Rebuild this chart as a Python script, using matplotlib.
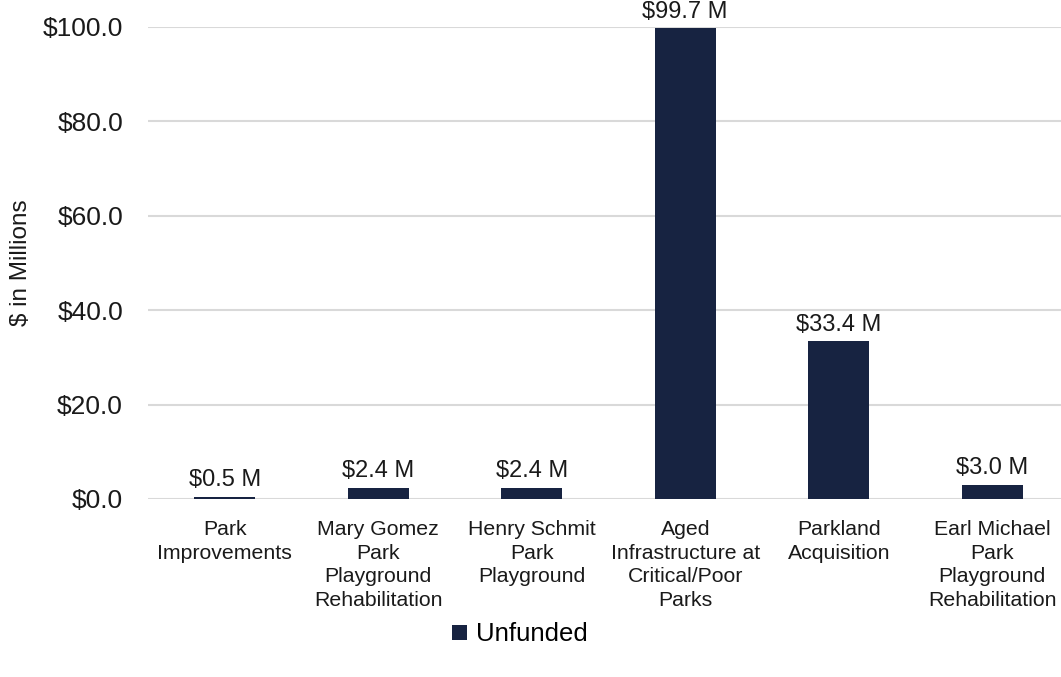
import matplotlib.pyplot as plt

categories = ['Park\nImprovements',
              'Mary Gomez\nPark\nPlayground\nRehabilitation',
              'Henry Schmit\nPark\nPlayground',
              'Aged\nInfrastructure at\nCritical/Poor\nParks',
              'Parkland\nAcquisition',
              'Earl Michael\nPark\nPlayground\nRehabilitation']
unfunded = [0.5, 2.4, 2.4, 99.7, 33.4, 3.0]
yticks = [0, 20, 40, 60, 80, 100]

plt.rcParams['font.family'] = ['Liberation Sans', 'DejaVu Sans']

fig = plt.figure(figsize=(10.61, 6.77), dpi=100)
ax = fig.add_axes([148 / 1061, 1 - 499 / 677, (1069 - 148) / 1061, (499 - 27) / 677])

x = list(range(len(categories)))
bars = ax.bar(x, unfunded, width=0.4, color='#172341', label='Unfunded', zorder=3)

for xi, v in zip(x, unfunded):
	ax.annotate('$%.1f M' % v, (xi, v), xytext=(0, 4), textcoords='offset points',
	            ha='center', va='bottom', fontsize=17, color='#1a1a1a', annotation_clip=False)

ax.set_xlim(-0.5, len(categories) - 0.5)
ax.set_ylim(0, 100)
ax.set_yticks(yticks)
ax.set_yticklabels(['$%.1f' % t for t in yticks], fontsize=19, color='#1a1a1a')
ax.set_xticks(x)
ax.set_xticklabels(categories, fontsize=15.3, color='#1a1a1a', linespacing=1.32)
ax.tick_params(axis='both', length=0)
ax.tick_params(axis='y', pad=18)
ax.tick_params(axis='x', pad=15)

ax.grid(axis='y', color='#d9d9d9', linewidth=1.5, zorder=0)
for s in ax.spines.values():
	s.set_visible(False)

ax.set_ylabel('$ in Millions', fontsize=17.5, color='#1a1a1a', labelpad=8)

fig.legend(handles=[bars], labels=['Unfunded'], loc='center', bbox_to_anchor=(0.49, 0.063),
           frameon=False, fontsize=18.5, handlelength=0.55, handleheight=0.55, handletextpad=0.35)

fig.savefig('out.png', dpi=100)
